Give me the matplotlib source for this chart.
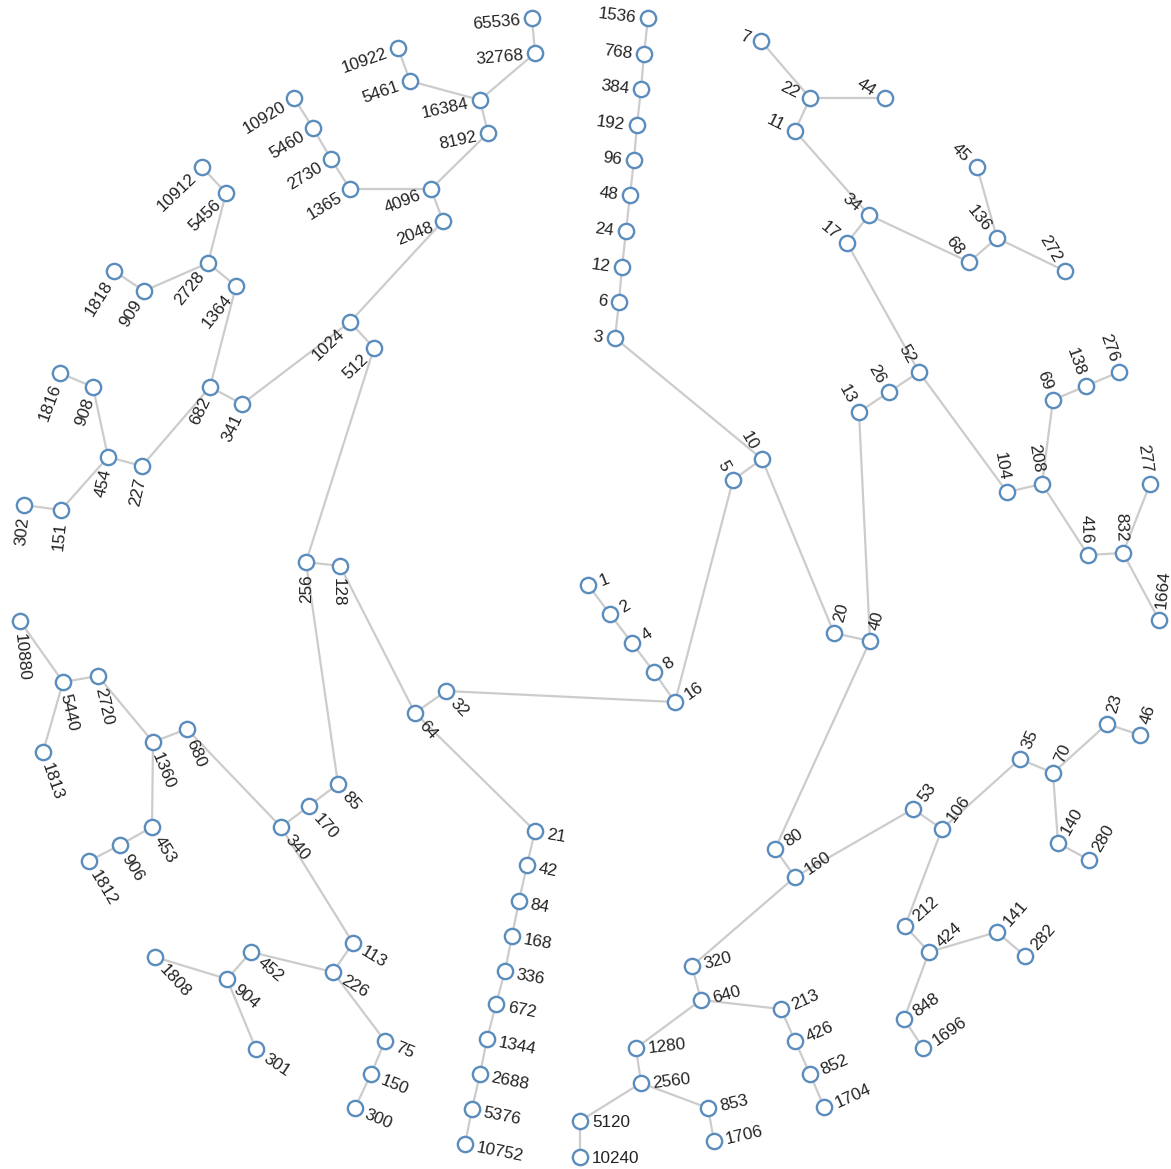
import math
import matplotlib
matplotlib.use("Agg")
from matplotlib import pyplot as plt

# node values of the reverse Collatz tree and where each one sits (pixels)
nodes = [
    1, 2, 4, 8, 16, 5, 10, 32, 64,
    3, 6, 12, 24, 48, 96, 192, 384, 768, 1536,
    20, 40, 13, 26, 52, 17, 34, 11, 22, 7, 44, 68, 136, 45, 272,
    104, 208, 69, 138, 276, 416, 832, 277, 1664,
    80, 160, 53, 106, 35, 70, 23, 46, 140, 280, 212, 424, 141, 282, 848, 1696,
    320, 640, 213, 426, 852, 1704, 1280, 2560, 853, 1706, 5120, 10240,
    21, 42, 84, 168, 336, 672, 1344, 2688, 5376, 10752,
    128, 256, 85, 170, 340, 113, 226, 452, 904, 1808, 301, 75, 150, 300,
    680, 1360, 2720, 5440, 10880, 1813, 453, 906, 1812,
    512, 1024, 341, 682, 227, 454, 908, 1816, 151, 302, 1364, 2728, 909, 1818, 5456, 10912,
    2048, 4096, 1365, 2730, 5460, 10920, 8192, 16384, 5461, 10922, 32768, 65536,
]
node_x = [
    588, 610, 632, 654, 675, 733, 762, 446, 415,
    615, 619, 622, 626, 630, 634, 637, 641, 644, 648,
    834, 870, 859, 889, 919, 847, 869, 795, 810, 761, 885, 969, 997, 977, 1065,
    1007, 1042, 1053, 1086, 1119, 1088, 1123, 1150, 1159,
    775, 795, 913, 942, 1020, 1053, 1107, 1140, 1058, 1089, 905, 929, 997, 1025, 904, 923,
    692, 701, 781, 795, 810, 824, 636, 641, 708, 714, 580, 580,
    535, 527, 519, 512, 505, 496, 487, 480, 472, 465,
    340, 306, 338, 309, 281, 353, 333, 251, 227, 155, 256, 385, 371, 355,
    187, 153, 98, 63, 20, 43, 152, 120, 89,
    374, 350, 242, 210, 142, 108, 93, 60, 61, 24, 236, 208, 144, 114, 226, 202,
    443, 431, 350, 331, 313, 294, 488, 480, 410, 398, 535, 532,
]
node_y = [
    585, 614, 643, 672, 702, 480, 459, 691, 713,
    338, 302, 267, 231, 195, 160, 125, 89, 54, 18,
    633, 641, 412, 392, 372, 243, 215, 131, 98, 41, 98, 262, 238, 167, 271,
    492, 484, 400, 386, 372, 555, 553, 484, 620,
    849, 877, 809, 829, 759, 773, 724, 735, 843, 860, 926, 952, 932, 956, 1019, 1048,
    966, 1000, 1009, 1041, 1074, 1107, 1048, 1083, 1108, 1141, 1121, 1157,
    831, 865, 901, 936, 971, 1004, 1039, 1074, 1109, 1144,
    566, 562, 784, 806, 827, 943, 972, 952, 979, 957, 1049, 1041, 1074, 1108,
    729, 742, 676, 682, 621, 752, 827, 845, 861,
    348, 322, 404, 387, 466, 457, 387, 373, 510, 505, 286, 263, 291, 271, 193, 167,
    221, 189, 189, 159, 128, 98, 133, 100, 81, 48, 53, 18,
]

W, H = 1171, 1169
cx, cy = 580, 565  # point the labels turn around

pos = {n: (x, y) for n, x, y in zip(nodes, node_x, node_y)}

fig = plt.figure(figsize=(W / 100, H / 100), dpi=100)
ax = fig.add_axes([0, 0, 1, 1])
ax.set_xlim(0, W)
ax.set_ylim(H, 0)
ax.axis("off")

# links: every node joins the next number of its Collatz step
for n in nodes:
    if n == 1:
        continue
    nxt = n // 2 if n % 2 == 0 else 3 * n + 1
    if nxt in pos:
        x0, y0 = pos[n]
        x1, y1 = pos[nxt]
        ax.plot([x0, x1], [y0, y1], color="#cccccc", lw=1.6, zorder=1,
                solid_capstyle="butt")

ax.plot(node_x, node_y, "o", ms=11, mfc="white", mec="#5a8dbd", mew=1.7,
        zorder=2, ls="none")

for n, x, y in zip(nodes, node_x, node_y):
    theta = math.degrees(math.atan2(x - cx, -(y - cy))) % 360
    if 90 <= theta < 270:
        phi = theta - 180
        sign, ha = 1, "left"
    else:
        phi = theta
        sign, ha = -1, "right"
    d = 12
    tx = x + sign * d * math.cos(math.radians(phi))
    ty = y + sign * d * math.sin(math.radians(phi))
    ax.text(tx, ty, str(n), rotation=-phi, rotation_mode="anchor", ha=ha,
            va="center_baseline", fontsize=12.3, color="#222222",
            family=["Liberation Sans", "DejaVu Sans"], zorder=3)

fig.savefig("out.png", dpi=100, facecolor="white")
